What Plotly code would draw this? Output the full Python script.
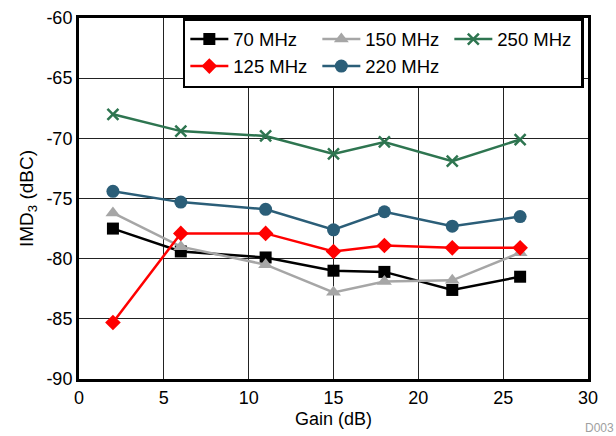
import plotly.graph_objects as go

gain = [2, 6, 11, 15, 18, 22, 26]
imd_70 = [-77.5, -79.4, -79.9, -81.0, -81.1, -82.6, -81.5]
imd_125 = [-85.3, -77.9, -77.9, -79.4, -78.9, -79.1, -79.1]
imd_150 = [-76.2, -79.0, -80.5, -82.8, -81.9, -81.8, -79.5]
imd_220 = [-74.4, -75.3, -75.9, -77.6, -76.1, -77.3, -76.5]
imd_250 = [-68.0, -69.4, -69.8, -71.3, -70.3, -71.9, -70.1]

y_tickvals = [-90, -85, -80, -75, -70, -65, -60]
y_ticktext = ["-90", "-85", "-80", "-75", "-70", "-65", "-60"]
x_tickvals = [0, 5, 10, 15, 20, 25, 30]
x_ticktext = ["0", "5", "10", "15", "20", "25", "30"]

series = [
    ("70 MHz", imd_70, "#000000", "square", 12),
    ("150 MHz", imd_150, "#A6A6A6", "triangle-up", 13),
    ("250 MHz", imd_250, "#2E7550", "x-thin", 11),
    ("125 MHz", imd_125, "#FF0000", "diamond", 12),
    ("220 MHz", imd_220, "#2B5E78", "circle", 13),
]

fig = go.Figure()
for name, vals, col, sym, sz in series:
    fig.add_trace(go.Scatter(
        x=gain, y=vals, name=name, mode="lines+markers",
        line=dict(color=col, width=2.5),
        marker=dict(symbol=sym, size=sz, color=col,
                    line=dict(color=col, width=2.5 if sym == "x-thin" else 0)),
    ))

axis_common = dict(
    showline=True, linecolor="black", linewidth=3, mirror=True,
    showgrid=True, gridcolor="#222222", gridwidth=1,
    ticks="", zeroline=False, automargin=False,
    tickfont=dict(family="Liberation Sans, Arial", size=18, color="black"),
)

fig.update_layout(
    width=616, height=436,
    margin=dict(l=79, r=28, t=18, b=57),
    paper_bgcolor="white", plot_bgcolor="white",
    font=dict(family="Liberation Sans, Arial", size=18, color="black"),
    xaxis=dict(range=[0, 30], tickmode="array", tickvals=x_tickvals, ticktext=x_ticktext,
               title=dict(text="Gain (dB)", standoff=6, font=dict(size=18)), **axis_common),
    yaxis=dict(range=[-90, -60], tickmode="array", tickvals=y_tickvals, ticktext=y_ticktext,
               title=dict(text="IMD<sub>3</sub> (dBC)", standoff=8, font=dict(size=19)),
               **axis_common),
    legend=dict(
        orientation="h", x=0.204, y=1, xanchor="left", yanchor="top",
        bgcolor="white", bordercolor="black", borderwidth=2.5,
        font=dict(size=18.5), entrywidth=79, itemwidth=38,
        tracegroupgap=0,
    ),
    showlegend=True,
)

fig.add_annotation(text="D003", xref="paper", yref="paper", x=1.055, y=-0.136,
                   xanchor="right", yanchor="middle", showarrow=False,
                   font=dict(size=12, color="#A0A0A0"))

fig.write_html("out.html", config={"displayModeBar": False},
               post_script="document.body.style.margin='0';")
